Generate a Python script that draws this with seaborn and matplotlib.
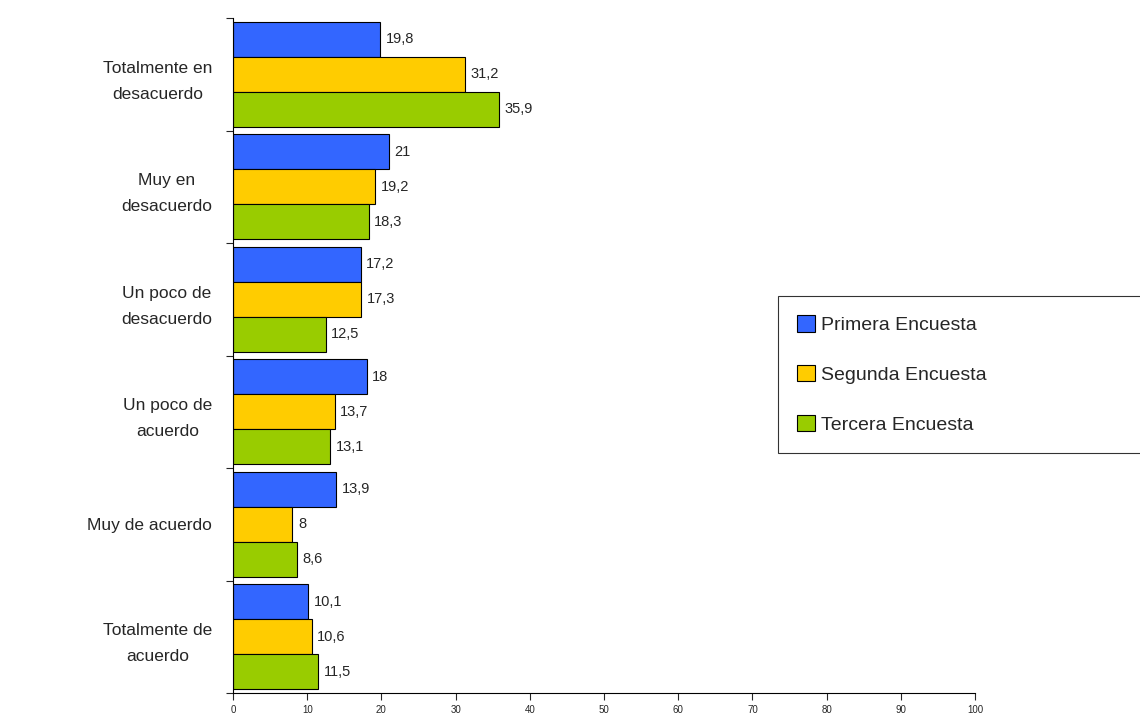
import numpy as np
import matplotlib
matplotlib.use("Agg")
import matplotlib.pyplot as plt
import pandas as pd
import seaborn as sns

# datos
categorias = ["Totalmente en\ndesacuerdo", "Muy en\ndesacuerdo", "Un poco de\ndesacuerdo",
              "Un poco de\nacuerdo", "Muy de acuerdo", "Totalmente de\nacuerdo"]
encuestas = ["Primera Encuesta", "Segunda Encuesta", "Tercera Encuesta"]
primera = [19.8, 21, 17.2, 18, 13.9, 10.1]
segunda = [31.2, 19.2, 17.3, 13.7, 8, 10.6]
tercera = [35.9, 18.3, 12.5, 13.1, 8.6, 11.5]
colores = ["#3366FF", "#FFCC00", "#99CC00"]

df = pd.DataFrame({
    "categoria": categorias * 3,
    "encuesta": np.repeat(encuestas, len(categorias)),
    "valor": primera + segunda + tercera,
})

sns.set_style("white")
plt.rcParams['font.family'] = ['Liberation Sans', 'DejaVu Sans']

fig = plt.figure(figsize=(11.4, 7.21), dpi=100)
ax = fig.add_axes([0.2044, 0.0388, 0.6509, 0.9362])

sns.barplot(data=df, y="categoria", x="valor", hue="encuesta", order=categorias,
            hue_order=encuestas, palette=colores, saturation=1, orient="h", width=0.93,
            edgecolor="black", linewidth=0.8, ax=ax, legend=True)

# etiquetas de valores
for cont in ax.containers:
    labels = [f"{v:g}".replace(".", ",") for v in cont.datavalues]
    ax.bar_label(cont, labels=labels, padding=4, fontsize=10.5)

ax.set_xlim(0, 100)
ax.set_ylim(len(categorias) - 0.5, -0.5)
ax.set_xticks(range(0, 101, 10))
ax.tick_params(axis="x", labelsize=7, length=5, direction="out", bottom=True, width=0.8)
ax.set_yticks(range(len(categorias)))
ax.set_yticklabels(categorias, multialignment="center", fontsize=12.5, linespacing=1.9)
ax.tick_params(axis="y", which="major", length=0, pad=15)
ax.set_yticks(np.arange(-0.5, len(categorias)), minor=True)
ax.tick_params(axis="y", which="minor", length=5, left=True, width=0.8)
ax.set_xlabel("")
ax.set_ylabel("")
for s in ["top", "right"]:
    ax.spines[s].set_visible(False)
for s in ["left", "bottom"]:
    ax.spines[s].set_color("black")
    ax.spines[s].set_linewidth(0.8)

leg = ax.legend(loc="upper left", bbox_to_anchor=(778 / 1140, 1 - 451 / 721, 0.4, 155 / 721),
                bbox_transform=fig.transFigure, mode="expand", fontsize=14,
                frameon=True, fancybox=False, edgecolor="black", handlelength=0.9,
                handleheight=0.9, handletextpad=0.3, labelspacing=1.6, borderpad=1.0,
                borderaxespad=0)
leg.get_frame().set_linewidth(0.8)

fig.savefig("out.png", dpi=100)
